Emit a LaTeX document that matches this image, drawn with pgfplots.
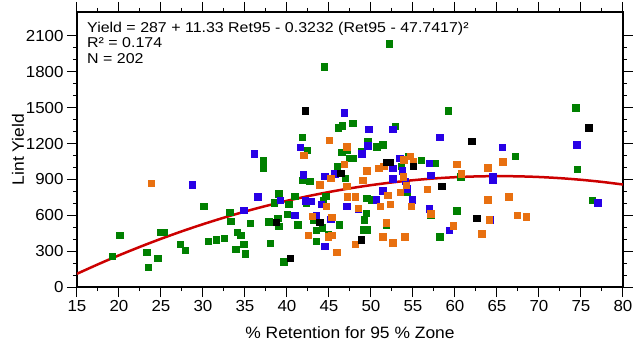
\documentclass[border=0pt]{standalone}
\usepackage{fontspec}
\setmainfont[FakeStretch=1.06]{Liberation Sans}
\newfontfamily\annfont[FakeStretch=1.12]{Liberation Sans}
\usepackage{pgfplots}
\pgfplotsset{compat=1.18}
\definecolor{cgreen}{RGB}{0,128,0}
\definecolor{cblue}{RGB}{40,0,230}
\definecolor{corange}{RGB}{232,112,16}
\definecolor{cred}{RGB}{204,0,0}
\begin{document}
\begin{tikzpicture}
\path[use as bounding box] (-77bp,-56bp) rectangle (559bp,287bp);
\begin{axis}[
 scale only axis, width=546bp, height=275bp,
 xmin=15, xmax=80, ymin=0, ymax=2300,
 xtick={15,20,...,80}, ytick={0,300,...,2100},
 minor x tick num=1, minor y tick num=2,
 tick align=outside, major tick length=10bp, minor tick length=4bp,
 every tick/.style={black, line width=1bp},
 axis line style={line width=1.5bp},
 ticklabel style={font=\fontsize{16}{18}\selectfont},
 /pgf/number format/assume math mode=true,
 /pgf/number format/1000 sep={},
 xlabel={\% Retention for 95 \% Zone},
 ylabel={Lint Yield},
 label style={font=\fontsize{16.5}{19}\selectfont},
 xlabel style={at={(axis description cs:0.5,-0.1673)}, anchor=center},
 ylabel style={at={(axis description cs:-0.108,0.5)}, anchor=center},
 mark size=3.2bp,
]
\addplot[cred, line width=2.5bp, smooth] coordinates {
(15,110.6) (17.5,189.7) (20,264.9) (22.5,336.0) (25,403.1) (27.5,466.2)
(30,525.2) (32.5,580.1) (35,631.1) (37.5,678.0) (40,720.8) (42.5,759.6)
(45,794.4) (47.5,825.2) (50,851.9) (52.5,874.5) (55,893.1) (57.5,907.7)
(60,918.2) (62.5,924.7) (65,927.2) (67.5,925.6) (70,920.0) (72.5,910.3)
(75,896.6) (77.5,878.9) (80,857.1)};
\addplot[only marks, mark=square*, cgreen] table {
x y
19.2 256
20.1 432
23.3 290
23.45 164
24.6 240
24.9 457
25.3 457
27.3 357
27.9 306
30.1 674
30.6 384
31.55 396
32.5 407
33.2 627
33.3 549
33.9 318
34.1 460
34.5 435
34.85 357
35.0 279
35.6 535
37.2 1061
37.2 997
37.8 546
38.0 368
38.5 705
38.9 575
39.0 780
39.0 507
39.6 212
40.0 610
40.2 691
40.9 758
41.26 521
41.8 1253
41.8 894
42.4 1142
42.3 705
42.7 883
43.1 563
43.5 474
43.5 384
44.2 496
44.3 721
44.6 758
44.4 1844
44.9 437
45.98 1011
46.2 521
46.1 1331
46.6 1348
46.5 1125
46.95 908
47.1 1142
47.4 1075
47.8 1368
47.9 1075
48.9 1136
49.1 479
49.2 563
49.4 616
49.5 479
49.6 1220
49.5 741
50.0 730
50.7 1175
51.4 1189
51.8 521
52.2 2036
52.9 1343
53.6 1011
54.25 791
54.5 1092
56.0 1061
57.1 602
57.6 1036
58.2 421
59.2 1474
60.2 638
60.7 922
67.2 1092
74.36 1501
74.55 983
76.3 727
};
\addplot[only marks, mark=square*, cblue] table {
x y
28.75 855
34.84 641
36.1 1114
36.5 755
39.2 724
40.9 602
41.6 1170
41.96 939
42.2 722
42.9 716
43.5 599
44.1 694
44.5 925
44.5 343
45.2 565
45.7 947
46.8 1457
47.1 677
48.5 652
48.9 1114
49.6 1181
49.75 1318
50.6 730
51.4 805
52.6 1318
52.6 994
52.6 905
53.4 1075
53.75 972
54.1 883
54.3 822
54.9 730
56.9 1036
57.1 933
56.95 655
58.2 1253
59.3 474
64.2 563
64.5 925
64.5 891
65.6 1167
74.5 1189
77.0 705
};
\addplot[only marks, mark=square*, corange] table {
x y
23.8 869
42.0 1100
42.5 435
43.0 591
43.9 855
44.7 677
45.0 1228
45.2 908
44.9 421
45.3 435
45.3 585
45.9 292
46.8 1025
47.1 1175
47.1 844
47.15 755
48.1 357
48.1 755
48.5 660
49.0 894
49.5 972
50.9 994
51.1 677
51.5 1011
51.4 421
51.8 538
52.0 769
52.3 691
52.6 370
53.5 791
53.8 922
53.9 1064
54.2 850
54.0 421
54.7 1092
54.8 677
55.0 1053
56.7 819
57.1 613
59.8 513
60.2 1025
60.75 947
63.2 446
63.9 997
63.9 730
64.1 563
65.7 1047
66.4 755
67.4 599
68.45 588
};
\addplot[only marks, mark=square*, black] table {
x y
38.75 540
40.4 240
42.2 1476
43.9 540
46.4 953
48.8 396
51.8 1042
52.3 1042
55.05 1011
58.4 844
62.0 1217
62.6 574
75.9 1331
};
\node[anchor=north west, align=left, inner sep=0pt, font=\annfont\fontsize{14.3}{16}\selectfont]
  at (rel axis cs:0,1) [xshift=10bp, yshift=-9.5bp]
  {Yield = 287 + 11.33 Ret95 - 0.3232 (Ret95 - 47.7417)²\\R² = 0.174\\N = 202};
\end{axis}
\end{tikzpicture}
\end{document}
